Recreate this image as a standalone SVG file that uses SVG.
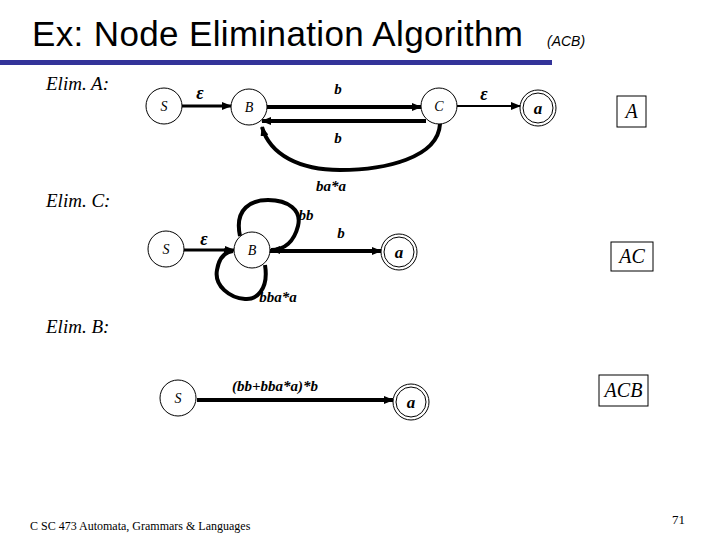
<svg xmlns="http://www.w3.org/2000/svg" width="720" height="540" viewBox="0 0 720 540">
<defs>
<marker id="arr" markerUnits="userSpaceOnUse" markerWidth="10" markerHeight="8" refX="9" refY="4" orient="auto">
<path d="M0,0 L10,4 L0,8 z" fill="#000"/>
</marker>
<style>
.node{fill:#fff;stroke:#000;stroke-width:1}
.nl{font-family:"Liberation Serif",serif;font-style:italic;font-size:14px;text-anchor:middle}
.fl{font-family:"Liberation Serif",serif;font-style:italic;font-weight:bold;font-size:17px;text-anchor:middle}
.el{font-family:"Liberation Serif",serif;font-style:italic;font-weight:bold;font-size:15px}
.eps{font-family:"Liberation Serif",serif;font-style:italic;font-weight:bold;font-size:18px;text-anchor:middle}
.elim{font-family:"Liberation Serif",serif;font-style:italic;font-size:19px}
.box{fill:#fff;stroke:#000;stroke-width:1}
.bl{font-family:"Liberation Serif",serif;font-style:italic;font-size:20px;text-anchor:middle}
.e{fill:none;stroke:#000;stroke-width:4;marker-end:url(#arr)}
.t{stroke-width:3}
.th{stroke-width:2}
</style>
</defs>
<rect width="720" height="540" fill="#fff"/>
<text x="32" y="46" font-family="Liberation Sans, Arial, sans-serif" font-size="35" textLength="491">Ex: Node Elimination Algorithm</text>
<text x="547" y="46" font-family="Liberation Sans, Arial, sans-serif" font-size="14" font-style="italic">(ACB)</text>
<rect x="0" y="60" width="552" height="5" fill="#333399"/>
<text class="elim" x="46" y="90">Elim. A:</text>
<text class="elim" x="46" y="207">Elim. C:</text>
<text class="elim" x="46" y="333">Elim. B:</text>
<g id="connectors">
<path class="e t" d="M182,106 L231,106"/>
<path class="e" d="M267,107 L421,107"/>
<path class="e" d="M426,121 L262,121"/>
<path class="e" d="M440,124 C438,158 385,170 340,170 C300,170 270,155 262,127"/>
<path class="e th" d="M457,106 L520,106"/>
<path class="e t" d="M184,250 L234,250"/>
<path class="e" d="M269,251 L381,251"/>
<path class="e" d="M240,236 C234,208 252,200 268,200 C288,200 302,210 298,226 C294,242 284,250 271,250"/>
<path class="e" d="M265,265 C269,290 256,300 245,299 C230,298 214,286 217,270 C219,258 224,252 233,251"/>
<path class="e" d="M197,400 L393,400"/>
</g>
<g id="labels">
<text class="eps" x="200" y="99">ε</text>
<text class="el" x="338" y="94" text-anchor="middle">b</text>
<text class="el" x="338" y="143" text-anchor="middle">b</text>
<text class="el" x="331" y="191" text-anchor="middle">ba*a</text>
<text class="eps" x="484" y="100">ε</text>
<text class="eps" x="204" y="245">ε</text>
<text class="el" x="341" y="238" text-anchor="middle">b</text>
<text class="el" x="306" y="220" text-anchor="middle">bb</text>
<text class="el" x="278" y="302" text-anchor="middle">bba*a</text>
<text class="el" x="275" y="391" text-anchor="middle">(bb+bba*a)*b</text>
</g>
<g id="A-S"><circle class="node" cx="164" cy="106" r="18"/><text class="nl" x="164" y="111">S</text></g>
<g id="A-B"><circle class="node" cx="249" cy="107" r="18"/><text class="nl" x="249" y="112">B</text></g>
<g id="A-C"><circle class="node" cx="439" cy="106" r="18"/><text class="nl" x="439" y="111">C</text></g>
<g id="A-a"><circle class="node" cx="538" cy="108" r="18"/><circle class="node" cx="538" cy="108" r="15"/><text class="fl" x="538" y="114">a</text></g>
<g id="C-S"><circle class="node" cx="166" cy="249" r="18"/><text class="nl" x="166" y="254">S</text></g>
<g id="C-B"><circle class="node" cx="252" cy="250" r="18"/><text class="nl" x="252" y="255">B</text></g>
<g id="C-a"><circle class="node" cx="399" cy="252" r="18"/><circle class="node" cx="399" cy="252" r="15"/><text class="fl" x="399" y="258">a</text></g>
<g id="B-S"><circle class="node" cx="178" cy="398" r="18"/><text class="nl" x="178" y="403">S</text></g>
<g id="B-a"><circle class="node" cx="411" cy="402" r="18"/><circle class="node" cx="411" cy="402" r="15"/><text class="fl" x="411" y="408">a</text></g>
<g id="box-A"><rect class="box" x="617" y="96" width="29" height="31"/><text class="bl" x="631.5" y="118">A</text></g>
<g id="box-AC"><rect class="box" x="611" y="242" width="42" height="29"/><text class="bl" x="632" y="263">AC</text></g>
<g id="box-ACB"><rect class="box" x="599" y="375" width="49" height="31"/><text class="bl" x="623.5" y="397">ACB</text></g>
<text x="30" y="530" font-family="Liberation Serif, serif" font-size="12">C SC 473 Automata, Grammars &amp; Languages</text>
<text x="672" y="524" font-family="Liberation Serif, serif" font-size="13">71</text>
</svg>
